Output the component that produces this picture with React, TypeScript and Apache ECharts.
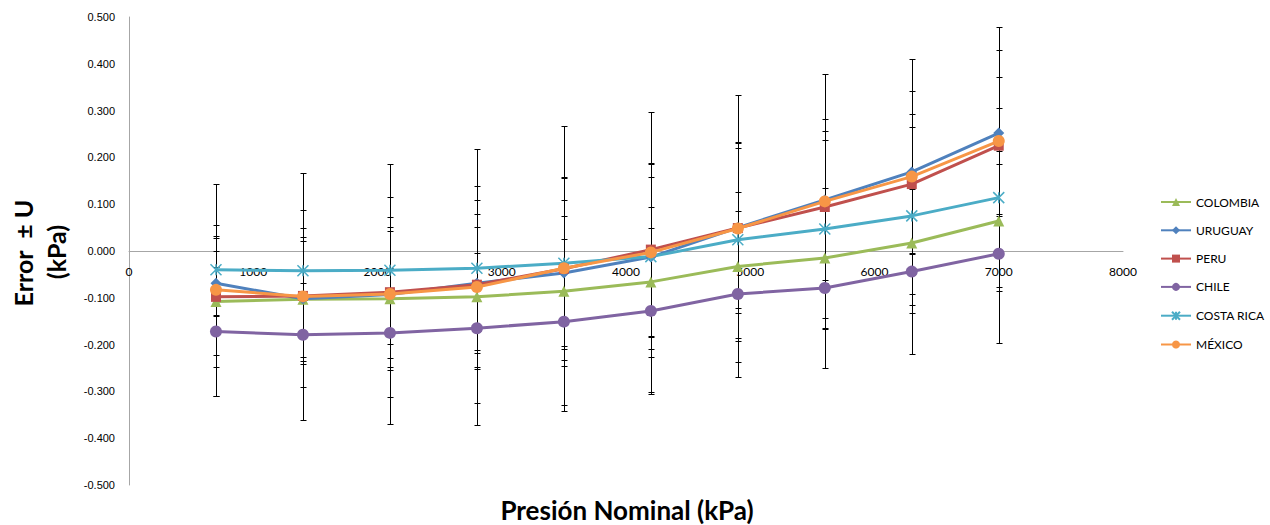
import React, { useEffect, useRef } from 'react';
import * as echarts from 'echarts';

const xValues = [700, 1400, 2100, 2800, 3500, 4200, 4900, 5600, 6300, 7000];

const colombia = [-0.108, -0.103, -0.102, -0.098, -0.086, -0.066, -0.033, -0.015, 0.017, 0.064];
const uruguay = [-0.069, -0.102, -0.093, -0.069, -0.047, -0.013, 0.050, 0.109, 0.169, 0.252];
const peru = [-0.098, -0.096, -0.088, -0.072, -0.038, 0.003, 0.049, 0.094, 0.143, 0.225];
const chile = [-0.172, -0.179, -0.175, -0.165, -0.151, -0.128, -0.092, -0.079, -0.044, -0.006];
const costaRica = [-0.040, -0.042, -0.041, -0.037, -0.026, -0.012, 0.024, 0.047, 0.075, 0.114];
const mexico = [-0.083, -0.097, -0.092, -0.077, -0.037, -0.003, 0.048, 0.106, 0.159, 0.235];

const uColombia = [0.140, 0.132, 0.153, 0.150, 0.160, 0.160, 0.160, 0.150, 0.149, 0.149];
const uUruguay = [0.069, 0.124, 0.135, 0.149, 0.156, 0.171, 0.171, 0.172, 0.173, 0.177];
const uPeru = [0.125, 0.146, 0.160, 0.180, 0.195, 0.185, 0.181, 0.163, 0.149, 0.147];
const uChile = [0.138, 0.111, 0.138, 0.160, 0.177, 0.177, 0.177, 0.171, 0.176, 0.191];
const uCostaRica = [0.096, 0.130, 0.157, 0.175, 0.184, 0.198, 0.209, 0.190, 0.190, 0.191];
const uMexico = [0.227, 0.264, 0.277, 0.294, 0.304, 0.299, 0.285, 0.272, 0.251, 0.243];

const seriesNames = ['COLOMBIA', 'URUGUAY', 'PERU', 'CHILE', 'COSTA RICA', 'MÉXICO'];

const ASTERISK = 'path://M0,0L10,10M10,0L0,10M5,0L5,10';

function errorSeries(name: string, values: number[], u: number[]) {
  return {
    type: 'custom',
    name: name + ' U',
    z: 1,
    silent: true,
    data: xValues.map((x, i) => [x, values[i] - u[i], values[i] + u[i]]),
    encode: { x: 0, y: [1, 2] },
    renderItem: (params: any, api: any) => {
      const x = api.value(0);
      const lo = api.coord([x, api.value(1)]);
      const hi = api.coord([x, api.value(2)]);
      const px = Math.round(lo[0]) + 0.5;
      const ly = Math.round(lo[1]) + 0.5;
      const hy = Math.round(hi[1]) + 0.5;
      const hw = 3;
      const style = { stroke: '#000', lineWidth: 1 };
      return {
        type: 'group',
        children: [
          { type: 'line', shape: { x1: px, y1: ly, x2: px, y2: hy }, style },
          { type: 'line', shape: { x1: px - hw, y1: ly, x2: px + hw, y2: ly }, style },
          { type: 'line', shape: { x1: px - hw, y1: hy, x2: px + hw, y2: hy }, style },
        ],
      };
    },
  };
}

function lineSeries(name: string, values: number[], color: string, symbol: string, size: number, extra: any = {}) {
  return {
    type: 'line',
    name,
    z: 3,
    data: xValues.map((x, i) => [x, values[i]]),
    symbol,
    symbolSize: size,
    showAllSymbol: true,
    lineStyle: { color, width: 3 },
    itemStyle: { color },
    ...extra,
  };
}

export default function App() {
  const ref = useRef<HTMLDivElement>(null);

  useEffect(() => {
    document.body.style.margin = '0';
    if (!ref.current) return;
    const chart = echarts.init(ref.current, undefined, { renderer: 'svg' });
    const option: any = {
      animation: false,
      backgroundColor: '#ffffff',
      grid: { left: 129, top: 17, width: 994, height: 468 },
      legend: {
        orient: 'vertical',
        left: 1155,
        top: 191,
        itemWidth: 30,
        itemHeight: 10,
        itemGap: 16.3,
        data: seriesNames,
        textStyle: { color: '#000', fontFamily: 'Lato', fontSize: 12 },
      },
      xAxis: {
        type: 'value',
        min: 0,
        max: 8000,
        interval: 1000,
        position: 'bottom',
        offset: -234,
        axisLine: { onZero: false, lineStyle: { color: '#A6A6A6', width: 1 } },
        axisTick: { show: false },
        splitLine: { show: false },
        axisLabel: {
          margin: 14,
          color: '#000',
          fontFamily: 'Lato',
          fontSize: 12,
          formatter: (v: number) => String(Math.round(v)),
        },
      },
      yAxis: {
        type: 'value',
        min: -0.5,
        max: 0.5,
        interval: 0.1,
        axisLine: { show: true, onZero: false, lineStyle: { color: '#A6A6A6', width: 1 } },
        axisTick: { show: false },
        splitLine: { show: false },
        axisLabel: {
          margin: 14,
          color: '#000',
          fontFamily: 'Liberation Sans',
          fontSize: 11,
          formatter: (v: number) => (Math.abs(v) < 1e-9 ? '0.000' : v.toFixed(3)),
        },
      },
      graphic: [
        {
          type: 'text',
          x: 627,
          y: 510,
          style: {
            text: 'Presión Nominal (kPa)',
            fontFamily: 'Lato',
            fontWeight: 'bold',
            fontSize: 26,
            fill: '#000',
            align: 'center',
            verticalAlign: 'middle',
          },
        },
        {
          type: 'text',
          x: 23,
          y: 253,
          rotation: Math.PI / 2,
          style: {
            text: 'Error  ± U',
            fontFamily: 'Lato',
            fontWeight: 'bold',
            fontSize: 25,
            fill: '#000',
            align: 'center',
            verticalAlign: 'middle',
          },
        },
        {
          type: 'text',
          x: 56,
          y: 252,
          rotation: Math.PI / 2,
          style: {
            text: '(kPa)',
            fontFamily: 'Lato',
            fontWeight: 'bold',
            fontSize: 25,
            fill: '#000',
            align: 'center',
            verticalAlign: 'middle',
          },
        },
      ],
      series: [
        errorSeries('COLOMBIA', colombia, uColombia),
        errorSeries('URUGUAY', uruguay, uUruguay),
        errorSeries('PERU', peru, uPeru),
        errorSeries('CHILE', chile, uChile),
        errorSeries('COSTA RICA', costaRica, uCostaRica),
        errorSeries('MÉXICO', mexico, uMexico),
        lineSeries('COLOMBIA', colombia, '#9BBB59', 'triangle', 11),
        lineSeries('URUGUAY', uruguay, '#4F81BD', 'diamond', 11),
        lineSeries('PERU', peru, '#C0504D', 'rect', 10),
        lineSeries('CHILE', chile, '#8064A2', 'circle', 12),
        lineSeries('COSTA RICA', costaRica, '#4BACC6', ASTERISK, 11, {
          itemStyle: { color: 'none', borderColor: '#4BACC6', borderWidth: 1.5 },
        }),
        lineSeries('MÉXICO', mexico, '#F79646', 'circle', 12),
      ],
    };
    chart.setOption(option);
    return () => chart.dispose();
  }, []);

  return <div ref={ref} style={{ width: 1270, height: 525 }} />;
}
